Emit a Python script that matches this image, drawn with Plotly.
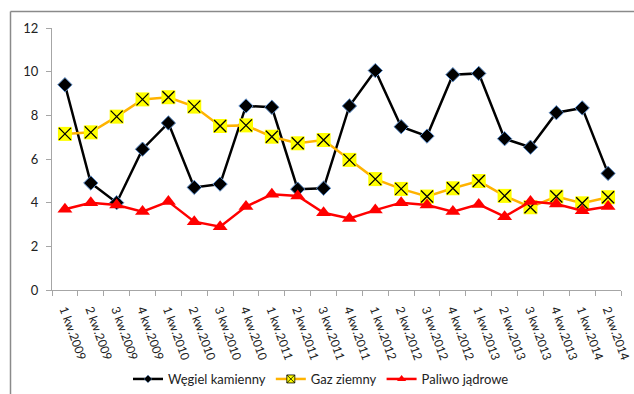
import plotly.graph_objects as go

categories = ["1 kw.2009", "2 kw.2009", "3 kw.2009", "4 kw.2009",
              "1 kw.2010", "2 kw.2010", "3 kw.2010", "4 kw.2010",
              "1 kw.2011", "2 kw.2011", "3 kw.2011", "4 kw.2011",
              "1 kw.2012", "2 kw.2012", "3 kw.2012", "4 kw.2012",
              "1 kw.2013", "2 kw.2013", "3 kw.2013", "4 kw.2013",
              "1 kw.2014", "2 kw.2014"]

wegiel = [9.4, 4.9, 4.0, 6.45, 7.65, 4.7, 4.85, 8.43, 8.37, 4.62, 4.66, 8.43,
          10.05, 7.48, 7.05, 9.86, 9.92, 6.93, 6.54, 8.12, 8.34, 5.34]
gaz = [7.15, 7.22, 7.94, 8.73, 8.83, 8.40, 7.51, 7.54, 7.02, 6.72, 6.87, 5.96,
       5.08, 4.63, 4.28, 4.66, 4.99, 4.31, 3.79, 4.28, 3.97, 4.25]
paliwo = [3.70, 4.00, 3.89, 3.59, 4.05, 3.13, 2.90, 3.82, 4.38, 4.31, 3.54, 3.28,
          3.66, 4.00, 3.89, 3.59, 3.92, 3.36, 4.05, 3.94, 3.63, 3.82]

font = "Lato, 'Liberation Sans', Arial, sans-serif"
COAL, GAS_LINE, GAS_FILL, NUC = "black", "#FFB300", "#FFFF00", "#FF0000"

fig = go.Figure()
# data traces (not in legend)
fig.add_trace(go.Scatter(
    x=categories, y=wegiel, mode="lines+markers", showlegend=False,
    legendgroup="w",
    line=dict(color=COAL, width=2.5),
    marker=dict(symbol="diamond", size=11, color=COAL,
                line=dict(color="#5b8cc8", width=1))))
fig.add_trace(go.Scatter(
    x=categories, y=gaz, mode="lines+markers", showlegend=False,
    legendgroup="g",
    line=dict(color=GAS_LINE, width=2.5),
    marker=dict(symbol="square", size=14, color=GAS_FILL,
                line=dict(width=0))))
fig.add_trace(go.Scatter(
    x=categories, y=gaz, mode="markers", showlegend=False, legendgroup="g",
    marker=dict(symbol="x-thin", size=12, color="black",
                line=dict(color="black", width=1.3))))
fig.add_trace(go.Scatter(
    x=categories, y=paliwo, mode="lines+markers", showlegend=False,
    legendgroup="p",
    line=dict(color=NUC, width=2.5),
    marker=dict(symbol="triangle-up", size=13, color=NUC,
                line=dict(width=0))))

# legend-only entries with small markers
fig.add_trace(go.Scatter(
    x=[None], y=[None], name="Węgiel kamienny", mode="lines+markers",
    legendgroup="w", line=dict(color=COAL, width=2.5),
    marker=dict(symbol="diamond", size=6, color=COAL,
                line=dict(color="#5b8cc8", width=0.5))))
fig.add_trace(go.Scatter(
    x=[None], y=[None], name="Gaz ziemny", mode="lines+markers",
    legendgroup="g", line=dict(color=GAS_LINE, width=2.5),
    marker=dict(symbol="square-x", size=8, color=GAS_FILL,
                line=dict(color="black", width=0.8))))
fig.add_trace(go.Scatter(
    x=[None], y=[None], name="Paliwo jądrowe", mode="lines+markers",
    legendgroup="p", line=dict(color=NUC, width=2.5),
    marker=dict(symbol="triangle-up", size=8, color=NUC,
                line=dict(width=0))))

W, H = 634, 394
L, R, T, B = 52, 13, 28, 104
pw, ph = W - L - R, H - T - B

def px_x(p):
    return (p - L) / pw

def px_y(p):
    return (H - B - p) / ph

shapes = [
    dict(type="line", xref="paper", yref="paper",
         x0=px_x(10.5), x1=px_x(634), y0=px_y(11.5), y1=px_y(11.5),
         line=dict(color="#8a8a8a", width=1.5)),
    dict(type="line", xref="paper", yref="paper",
         x0=px_x(10.5), x1=px_x(10.5), y0=px_y(11.5), y1=px_y(394),
         line=dict(color="#8a8a8a", width=1.5)),
]

fig.update_layout(
    width=W, height=H,
    margin=dict(l=L, r=R, t=T, b=B, autoexpand=False),
    paper_bgcolor="white", plot_bgcolor="white",
    font=dict(family=font, size=12, color="#222"),
    showlegend=True,
    legend=dict(orientation="h", xref="container", x=321 / W, xanchor="center",
                yref="container", y=1 - 379 / H, yanchor="middle",
                font=dict(size=13, color="#222"), itemwidth=30,
                bgcolor="rgba(0,0,0,0)"),
    shapes=shapes,
    xaxis=dict(type="category", showgrid=False, showline=True,
               linecolor="#a6a6a6", linewidth=1, ticks="outside",
               tickson="boundaries", ticklen=5, tickcolor="#a6a6a6",
               tickangle=70, tickfont=dict(size=12, color="#222"),
               ticklabelstandoff=7, automargin=False,
               range=[-0.5, len(categories) - 0.5]),
    yaxis=dict(range=[0, 12], dtick=2, showgrid=False, showline=True,
               linecolor="#a6a6a6", linewidth=1, ticks="outside",
               ticklen=5, tickcolor="#a6a6a6", zeroline=False,
               ticklabelstandoff=5, automargin=False,
               tickfont=dict(size=13, color="#222")),
)

fig.write_html("out.html")
